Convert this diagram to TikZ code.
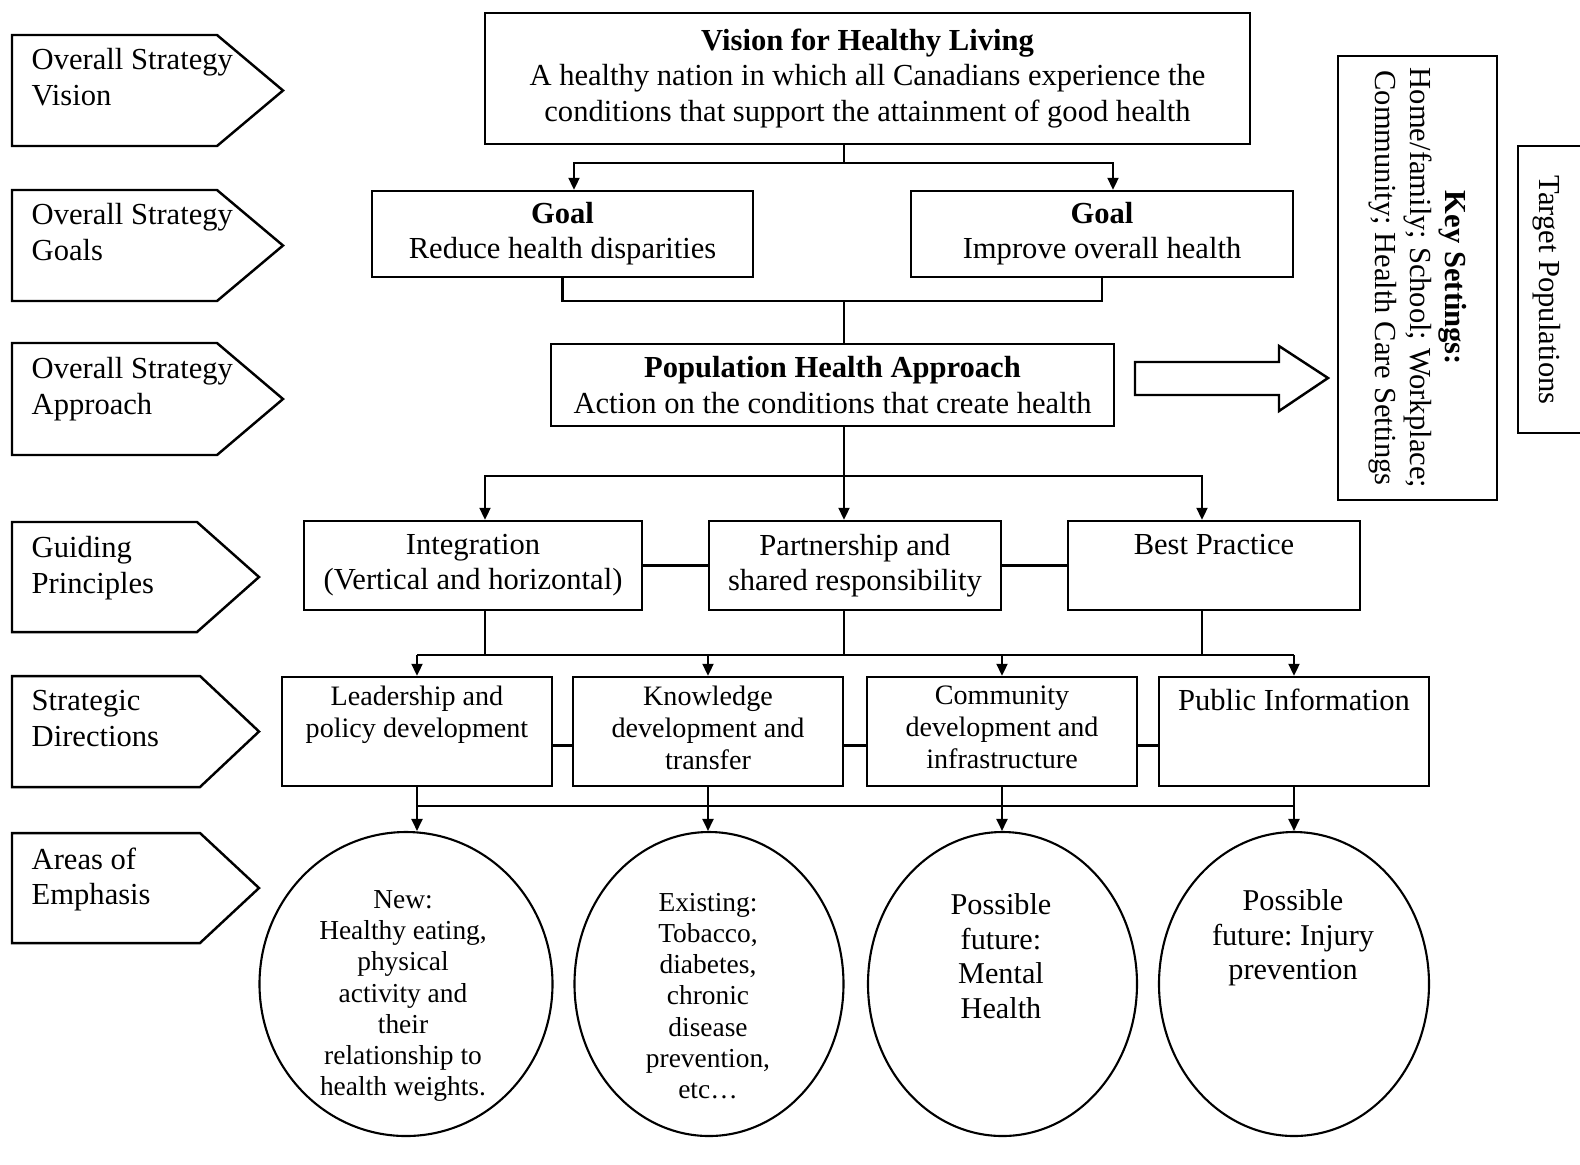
\documentclass[tikz,border=0pt]{standalone}
\usepackage{fontspec}
\setmainfont{Liberation Serif}
\usetikzlibrary{positioning,arrows.meta,shapes.geometric}
\frenchspacing

\begin{document}
\begin{tikzpicture}[x=0.1mm, y=-0.1mm,
    box/.style={draw, line width=0.7pt, inner sep=0pt, align=center},
    lbl/.style={inner sep=0pt, align=center},
    smalltext/.style={font=\fontsize{8}{9.2}\selectfont},
    tabshape/.style={draw, line width=0.7pt, line join=miter},
    tabtext/.style={inner sep=0pt, align=left, anchor=north west},
    bubble/.style={draw, ellipse, line width=0.6pt, inner sep=0pt},
    wire/.style={line width=0.6pt},
    arr/.style={wire, -{Triangle[length=1.2mm, width=1.1mm]}},
    font=\fontsize{8.7}{10}\selectfont]

    \useasboundingbox (0,0) rectangle (1580,1164);

    % left hand tabs
    \draw[tabshape] (12,35) -- (217,35) -- (283,90.5) -- (217,146) -- (12,146) -- cycle;
    \node[tabtext] (tabvision) at (31,48) {Overall Strategy\\Vision};
    \draw[tabshape] (12,190) -- (217,190) -- (283,245.5) -- (217,301) -- (12,301) -- cycle;
    \node[tabtext] (tabgoals) at (31,203) {Overall Strategy\\Goals};
    \draw[tabshape] (12,343) -- (217,343) -- (283,399) -- (217,455) -- (12,455) -- cycle;
    \node[tabtext] (tabapproach) at (31,357) {Overall Strategy\\Approach};
    \draw[tabshape] (12,522) -- (197,522) -- (259,577) -- (197,632) -- (12,632) -- cycle;
    \node[tabtext] (tabguiding) at (31,536) {Guiding\\Principles};
    \draw[tabshape] (12,676) -- (200,676) -- (259,731.5) -- (200,787) -- (12,787) -- cycle;
    \node[tabtext] (tabdirections) at (31,690) {Strategic\\Directions};
    \draw[tabshape] (12,833) -- (200,833) -- (259,888) -- (200,943) -- (12,943) -- cycle;
    \node[tabtext] (tabemphasis) at (31,847) {Areas of\\Emphasis};

    % main boxes
    \node[box, minimum width=76.5mm, minimum height=13.1mm] (vision) at (867.5,78.5)
        {\textbf{Vision for Healthy Living}\\A healthy nation in which all Canadians experience the\\conditions that support the attainment of good health};
    \node[box, minimum width=38.1mm, minimum height=8.6mm] (goalL) at (562.5,234)
        {\textbf{Goal}\\Reduce health disparities};
    \node[box, minimum width=38.2mm, minimum height=8.6mm] (goalR) at (1102,234)
        {\textbf{Goal}\\Improve overall health};
    \node[box, minimum width=56.3mm, minimum height=8.2mm] (pop) at (832.5,385)
        {\textbf{Population Health Approach}\\Action on the conditions that create health};

    \node[box, minimum width=33.8mm, minimum height=8.9mm] (integ) at (473,565.5)
        {Integration\\(Vertical and horizontal)};
    \node[box, minimum width=29.2mm, minimum height=8.9mm] (partner) at (855,565.5)
        {Partnership and\\shared responsibility};
    \node[box, minimum width=29.2mm, minimum height=8.9mm] (best) at (1214,565.5) {};
    \node[lbl, below=1.4mm of best.north] (besttxt) {Best Practice};

    \node[box, minimum width=27mm, minimum height=10.9mm] (lead) at (417,731.5) {};
    \node[box, minimum width=27mm, minimum height=10.9mm] (know) at (708,731.5) {};
    \node[box, minimum width=27mm, minimum height=10.9mm] (comm) at (1002,731.5) {};
    \node[box, minimum width=27mm, minimum height=10.9mm] (pub) at (1294,731.5) {};
    \node[lbl, smalltext, below=0.9mm of lead.north] (leadtxt) {Leadership and\\policy development};
    \node[lbl, smalltext, below=0.9mm of know.north] (knowtxt) {Knowledge\\development and\\transfer};
    \node[lbl, smalltext, below=0.9mm of comm.north] (commtxt) {Community\\development and\\infrastructure};
    \node[lbl, below=1.2mm of pub.north] (pubtxt) {Public Information};

    % areas of emphasis
    \node[bubble, minimum width=29.3mm, minimum height=30.4mm] (e1) at (406,984) {};
    \node[bubble, minimum width=26.9mm, minimum height=30.4mm] (e2) at (709,984) {};
    \node[bubble, minimum width=26.9mm, minimum height=30.4mm] (e3) at (1002.5,984) {};
    \node[bubble, minimum width=27mm, minimum height=30.4mm] (e4) at (1294,984) {};
    \node[lbl, font=\fontsize{7.8}{8.9}\selectfont] (e1txt) at (403,996)
        {New:\\Healthy eating,\\physical\\activity and\\their\\relationship to\\health weights.};
    \node[lbl, font=\fontsize{7.8}{8.9}\selectfont] (e2txt) at (708,996)
        {Existing:\\Tobacco,\\diabetes,\\chronic\\disease\\prevention,\\etc\dots};
    \node[lbl, font=\fontsize{8.6}{9.8}\selectfont] (e3txt) at (1001,956)
        {Possible\\future:\\Mental\\Health};
    \node[lbl, font=\fontsize{8.6}{9.8}\selectfont] (e4txt) at (1293,938)
        {Possible\\future: Injury\\prevention};

    % right hand side
    \draw[tabshape] (1135,362) -- (1279,362) -- (1279,346) -- (1328,378) -- (1279,411) -- (1279,395) -- (1135,395) -- cycle;
    \node[box, rotate=-90, minimum width=44.4mm, minimum height=15.9mm] (keyset) at (1417.5,278)
        {\textbf{Key Settings:}\\Home/family; School; Workplace;\\Community; Health Care Settings};
    \draw[tabshape] (1580,146) -- (1518,146) -- (1518,433) -- (1580,433);
    \node[lbl, rotate=-90] (target) at (1547,290) {Target Populations};

    % vision to goals
    \coordinate (vg) at (844,163);
    \coordinate (vgl) at (574,163);
    \coordinate (vgr) at (1113,163);
    \draw[wire] (vision.south -| vg) -- (vg);
    \draw[arr] (vg) -| (vgl |- goalL.north);
    \draw[arr] (vg) -| (vgr |- goalR.north);

    % goals to approach
    \coordinate (gp) at (844,301);
    \draw[wire] (goalL.south) |- (gp) -| (goalR.south);
    \draw[wire] (gp) -- (gp |- pop.north);

    % approach to principles
    \coordinate (pp) at (844,476);
    \coordinate (px1) at (485,476);
    \coordinate (px3) at (1202,476);
    \draw[arr] (pop.south -| pp) -- (pp |- partner.north);
    \draw[arr] (pp) -| (px1 |- integ.north);
    \draw[arr] (pp) -| (px3 |- best.north);
    \draw[wire] (integ.east) -- (partner.west);
    \draw[wire] (partner.east) -- (best.west);

    % principles to directions
    \coordinate (sd) at (0,655);
    \draw[wire] (integ.south -| px1) -- (px1 |- sd);
    \draw[wire] (partner.south -| pp) -- (pp |- sd);
    \draw[wire] (best.south -| px3) -- (px3 |- sd);
    \draw[wire] (lead.north |- sd) -- (pub.north |- sd);
    \draw[arr] (lead.north |- sd) -- (lead.north);
    \draw[arr] (know.north |- sd) -- (know.north);
    \draw[arr] (comm.north |- sd) -- (comm.north);
    \draw[arr] (pub.north |- sd) -- (pub.north);
    \draw[wire] ([yshift=-1.4mm]lead.east) -- ([yshift=-1.4mm]know.west);
    \draw[wire] ([yshift=-1.4mm]know.east) -- ([yshift=-1.4mm]comm.west);
    \draw[wire] ([yshift=-1.4mm]comm.east) -- ([yshift=-1.4mm]pub.west);

    % directions to areas of emphasis
    \coordinate (ae) at (0,806);
    \draw[wire] (lead.south |- ae) -- (pub.south |- ae);
    \draw[arr] (lead.south) -- (lead.south |- e1.north);
    \draw[arr] (know.south) -- (know.south |- e2.north);
    \draw[arr] (comm.south) -- (comm.south |- e3.north);
    \draw[arr] (pub.south) -- (pub.south |- e4.north);
\end{tikzpicture}
\end{document}
